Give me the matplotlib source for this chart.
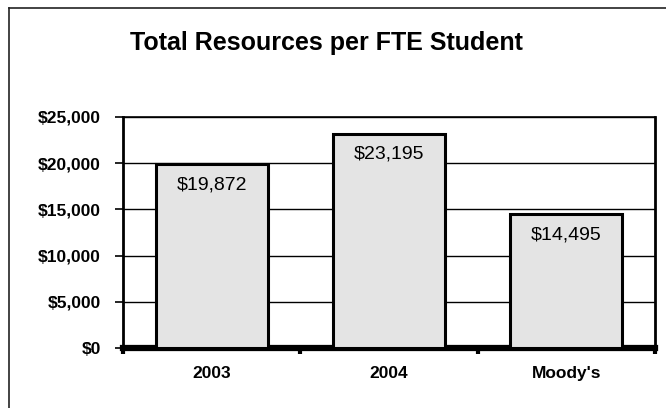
import matplotlib.pyplot as plt
from matplotlib.ticker import FuncFormatter
from matplotlib.lines import Line2D

# data
categories = ['2003', '2004', "Moody's"]
values = [19872, 23195, 14495]
labels = ['$19,872', '$23,195', '$14,495']
y_ticks = [0, 5000, 10000, 15000, 20000, 25000]

plt.rcParams['font.family'] = ['Liberation Sans', 'DejaVu Sans']

fig = plt.figure(figsize=(6.66, 4.08), dpi=100)
ax = fig.add_axes([0.1847, 0.1471, 0.7988, 0.5662])

x = range(len(categories))
ax.bar(x, values, width=0.63, color='#e4e4e4', edgecolor='black', linewidth=2.2, zorder=3)
for i, (v, lab) in enumerate(zip(values, labels)):
    ax.annotate(lab, (i, v), xytext=(0, -15), textcoords='offset points',
                ha='center', va='center', fontsize=14, zorder=4)

ax.set_xlim(-0.5, 2.5)
ax.set_ylim(0, 25000)
ax.set_yticks(y_ticks)
ax.yaxis.set_major_formatter(FuncFormatter(lambda v, p: '${:,.0f}'.format(v)))
ax.grid(axis='y', color='black', linewidth=1.0, zorder=0)

# category labels under bars, ticks at the boundaries
ax.set_xticks([-0.5, 0.5, 1.5, 2.5])
ax.set_xticklabels([])
ax.set_xticks(list(x), minor=True)
ax.set_xticklabels(categories, minor=True, fontsize=12.5, fontweight='bold')
ax.tick_params(axis='x', which='major', length=4, width=3, direction='out')
ax.tick_params(axis='x', which='minor', length=0, pad=13)
ax.tick_params(axis='y', length=6, width=1.2, direction='out', pad=10)
for t in ax.get_yticklabels():
    t.set_fontsize(12.5)
    t.set_fontweight('bold')

ax.spines['bottom'].set_linewidth(4.5)
ax.spines['left'].set_linewidth(2)
ax.spines['right'].set_linewidth(2)
ax.spines['top'].set_linewidth(1.2)

fig.text(0.49, 0.895, 'Total Resources per FTE Student', ha='center', va='center',
         fontsize=18, fontweight='bold')

# outer frame (top and left edges visible)
fig.add_artist(Line2D([9 / 666, 1.0], [1 - 8 / 408, 1 - 8 / 408], color='#222222', linewidth=1.2))
fig.add_artist(Line2D([9 / 666, 9 / 666], [0.0, 1 - 8 / 408], color='#222222', linewidth=1.2))

fig.savefig('out.png', dpi=100)
